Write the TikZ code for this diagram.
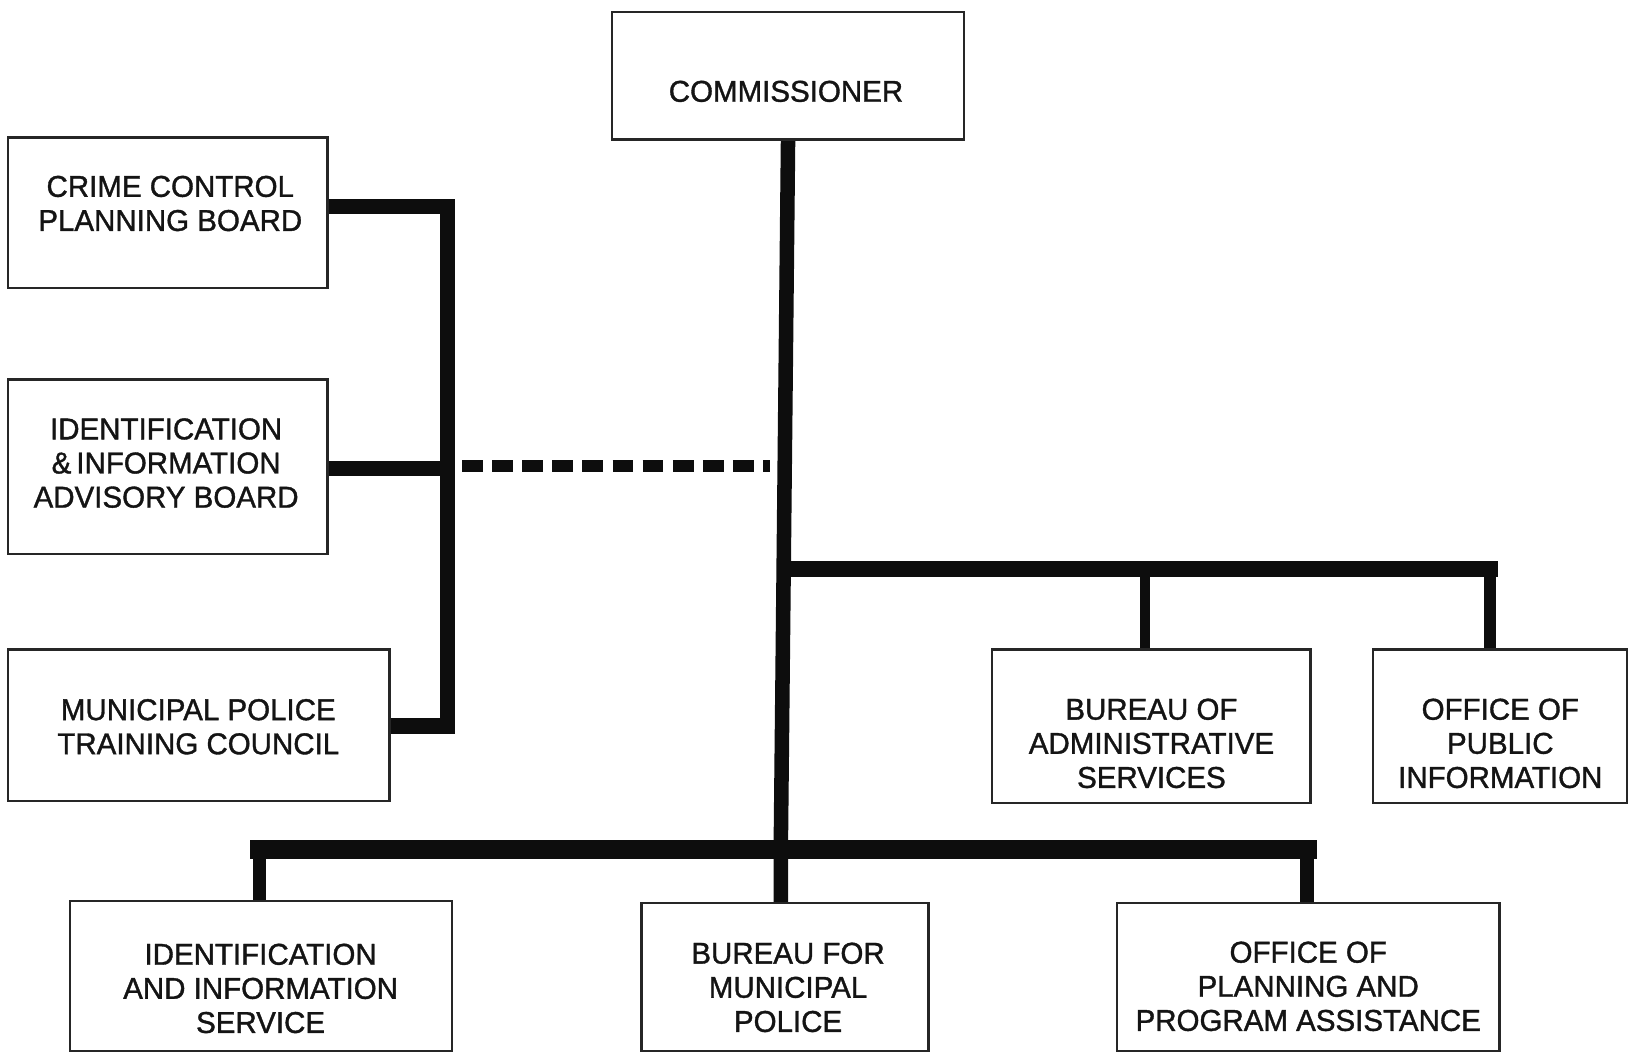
\documentclass[tikz,border=0pt]{standalone}
\usepackage{fontspec}
\newfontfamily\lblfont{Liberation Sans}[FakeStretch=0.98,FakeBold=1.2]
\begin{document}
\begin{tikzpicture}[x=0.02cm,y=-0.02cm,
  box/.style={draw=black!85, line width=0.9pt, fill=white, inner sep=0pt},
  lbl/.style={font=\lblfont\fontsize{16.5}{18.7}\selectfont, align=center, inner sep=0pt, text=black!92},
  conn/.style={line width=0.28cm, black!95, line join=miter},
  dashconn/.style={line width=0.24cm, black!95, dash pattern=on 0.4cm off 0.18cm}]
\useasboundingbox (0,0) rectangle (1568,1014);
% boxes (shapes first, for anchors)
\node[box, minimum width=6.76cm, minimum height=2.44cm] (comm) at (759,73) {};
\node[box, minimum width=6.14cm, minimum height=2.88cm] (ccpb) at (161.5,205) {};
\node[box, minimum width=6.14cm, minimum height=3.34cm] (iiab) at (161.5,449.5) {};
\node[box, minimum width=7.34cm, minimum height=2.90cm] (mptc) at (191.5,698.5) {};
\node[box, minimum width=6.12cm, minimum height=2.94cm] (bas) at (1109,699.5) {};
\node[box, minimum width=4.88cm, minimum height=2.94cm] (opi) at (1445,699.5) {};
\node[box, minimum width=7.34cm, minimum height=2.88cm] (iis) at (251.5,940) {};
\node[box, minimum width=5.52cm, minimum height=2.84cm] (bmp) at (756,941) {};
\node[box, minimum width=7.36cm, minimum height=2.84cm] (oppa) at (1260,941) {};
% junction coordinates
\coordinate (lbt) at (431,199);
\coordinate (lbm) at (431,451);
\coordinate (lbb) at (431,699);
\coordinate (dstart) at (445,449);
\coordinate (dend) at (742,449);
\coordinate (mbot) at (752,818);
\coordinate (rbl) at (756,548);
\coordinate (rbm) at (1103,548);
\coordinate (rbr) at (1435,548);
\coordinate (bbl) at (250,818);
\coordinate (bbr) at (1259,818);
% connectors
\draw[conn, line width=0.3cm] (ccpb.east |- lbt) -- (lbt) -- (lbb) -- (mptc.east |- lbb);
\draw[conn] (iiab.east |- lbm) -- (lbm);
\draw[dashconn] (dstart) -- (dend);
\draw[conn] (comm.south) -- (mbot) -- (mbot |- bmp.north);
\draw[conn, line width=0.32cm, line cap=rect] (rbl) -- (rbr);
\draw[conn, line width=0.2cm] (rbm) -- (rbm |- bas.north);
\draw[conn, line width=0.24cm] (rbr) -- (rbr |- opi.north);
\draw[conn, line width=0.36cm, line cap=rect] (bbl) -- (bbr);
\draw[conn, line width=0.24cm] (bbl) -- (bbl |- iis.north);
\draw[conn, line width=0.26cm] (bbr) -- (bbr |- oppa.north);
% redraw box borders on top
\foreach \b in {comm,ccpb,iiab,mptc,bas,opi,iis,bmp,oppa}
  \draw[black!85, line width=0.9pt] (\b.south west) rectangle (\b.north east);
% labels
\node[lbl] (comm-t) at (757,88) {COMMISSIONER};
\node[lbl] (ccpb-t) at (164,196) {CRIME CONTROL\\PLANNING BOARD};
\node[lbl] (iiab-t) at (160,446) {IDENTIFICATION\\\&\,INFORMATION\\ADVISORY BOARD};
\node[lbl] (mptc-t) at (191,700) {MUNICIPAL POLICE\\TRAINING COUNCIL};
\node[lbl] (bas-t) at (1109,716) {BUREAU OF\\ADMINISTRATIVE\\SERVICES};
\node[lbl] (opi-t) at (1445,716) {OFFICE OF\\PUBLIC\\INFORMATION};
\node[lbl] (iis-t) at (251,952) {IDENTIFICATION\\AND INFORMATION\\SERVICE};
\node[lbl] (bmp-t) at (759,951) {BUREAU FOR\\MUNICIPAL\\POLICE};
\node[lbl] (oppa-t) at (1260,950) {OFFICE OF\\PLANNING AND\\PROGRAM ASSISTANCE};
\end{tikzpicture}
\end{document}
